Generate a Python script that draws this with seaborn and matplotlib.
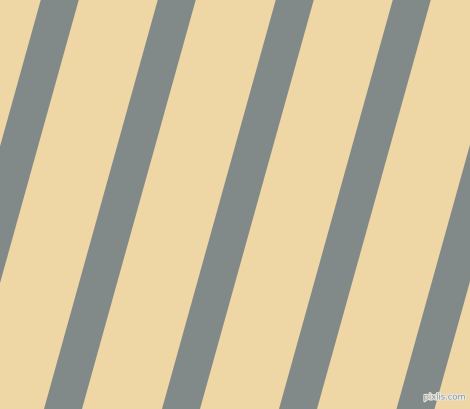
import seaborn as sns
import matplotlib.pyplot as plt
import matplotlib.patheffects as pe

# stripe left edges along the top row (px), stripe width and drift over full height
stripe_tops = [-76.5, 41, 158, 276, 393, 510.5]
stripe_width = 38
drift = 114  # how far the stripe moves left from top to bottom

bg_color = "#efd6a5"
stripe_color = "#818a89"

sns.set_style("white")
fig = plt.figure(figsize=(4.7, 4.1), dpi=100)
ax = fig.add_axes([0, 0, 1, 1])
ax.set_facecolor(bg_color)

ys = [0, 410]
for top in stripe_tops:
    left = [top, top - drift]
    right = [top + stripe_width, top + stripe_width - drift]
    ax.fill_betweenx(ys, left, right, color=stripe_color, linewidth=0)

ax.text(466, 398, "pixlis.com", ha="right", va="center", fontsize=6,
        color="#8f9594",
        path_effects=[pe.withStroke(linewidth=1.5, foreground="#e8e8e0")])

ax.set_xlim(0, 470)
ax.set_ylim(410, 0)
ax.axis("off")
fig.savefig("out.png", dpi=100, facecolor=bg_color)
